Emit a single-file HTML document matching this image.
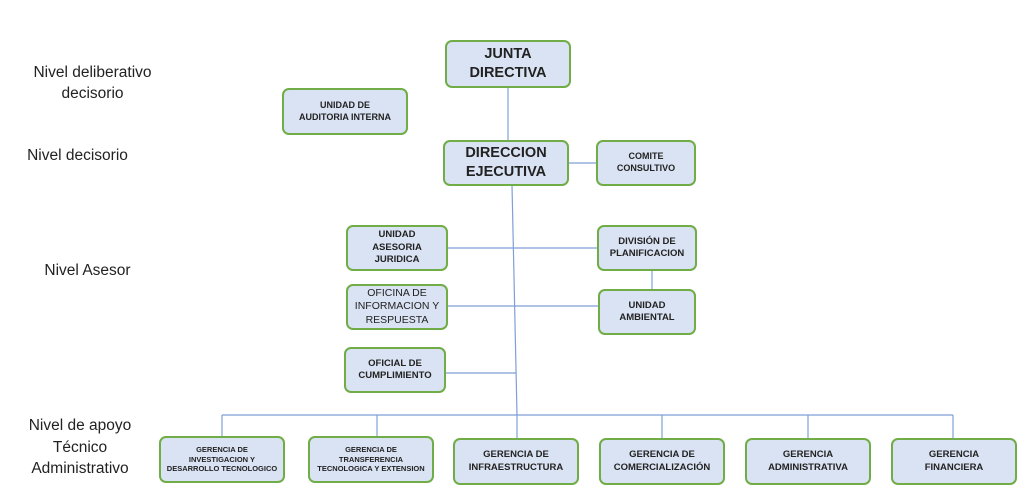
<!DOCTYPE html>
<html><head><meta charset="utf-8"><style>
body{margin:0;width:1024px;height:490px;background:#fff;position:relative;overflow:hidden;font-family:"Liberation Sans",sans-serif}
.b{position:absolute;box-sizing:border-box;background:#dae3f3;border:2px solid #70ad47;border-radius:7px;display:flex;align-items:center;justify-content:center;text-align:center;font-weight:bold;color:#222;line-height:1.3}
.l{position:absolute;font-size:15.5px;color:#222;text-align:center;line-height:21px}
svg{position:absolute;left:0;top:0}
</style></head><body>
<svg width="1024" height="490"><g stroke="#7f9fd6" stroke-width="1.2" fill="none">
<line x1="508" y1="88" x2="508" y2="140"/>
<line x1="569" y1="163" x2="596" y2="163"/>
<line x1="512" y1="185" x2="517" y2="415"/>
<line x1="448" y1="248" x2="597" y2="248"/>
<line x1="448" y1="306" x2="598" y2="306"/>
<line x1="446" y1="373" x2="516" y2="373"/>
<line x1="652" y1="271" x2="652" y2="289"/>
<line x1="222" y1="415" x2="953" y2="415"/>
<line x1="222" y1="415" x2="222" y2="436"/>
<line x1="377" y1="415" x2="377" y2="436"/>
<line x1="517" y1="415" x2="517" y2="438"/>
<line x1="662" y1="415" x2="662" y2="438"/>
<line x1="808" y1="415" x2="808" y2="438"/>
<line x1="953" y1="415" x2="953" y2="438"/>
</g></svg>
<div class="l" style="left:5px;top:62px;width:175px">Nivel deliberativo<br>decisorio</div>
<div class="l" style="left:5px;top:145px;width:145px">Nivel decisorio</div>
<div class="l" style="left:15px;top:260px;width:145px">Nivel Asesor</div>
<div class="l" style="left:5px;top:415px;width:150px;line-height:21.5px">Nivel de apoyo<br>Técnico<br>Administrativo</div>

<div class="b" style="left:445px;top:40px;width:126px;height:48px;font-size:14.5px">JUNTA<br>DIRECTIVA</div>
<div class="b" style="left:282px;top:88px;width:126px;height:47px;font-size:9px">UNIDAD DE<br>AUDITORIA INTERNA</div>
<div class="b" style="left:443px;top:140px;width:126px;height:46px;font-size:14.5px">DIRECCION<br>EJECUTIVA</div>
<div class="b" style="left:596px;top:140px;width:100px;height:46px;font-size:9px">COMITE<br>CONSULTIVO</div>
<div class="b" style="left:346px;top:225px;width:102px;height:46px;font-size:9.5px">UNIDAD<br>ASESORIA<br>JURIDICA</div>
<div class="b" style="left:597px;top:225px;width:100px;height:46px;font-size:9.5px">DIVISIÓN DE<br>PLANIFICACION</div>
<div class="b" style="left:346px;top:284px;width:102px;height:46px;font-size:10.5px;font-weight:normal">OFICINA DE<br>INFORMACION Y<br>RESPUESTA</div>
<div class="b" style="left:598px;top:289px;width:98px;height:46px;font-size:9.5px">UNIDAD<br>AMBIENTAL</div>
<div class="b" style="left:344px;top:347px;width:102px;height:46px;font-size:9.5px">OFICIAL DE<br>CUMPLIMIENTO</div>

<div class="b" style="left:159px;top:436px;width:126px;height:47px;font-size:7.5px">GERENCIA DE<br>INVESTIGACION Y<br>DESARROLLO TECNOLOGICO</div>
<div class="b" style="left:308px;top:436px;width:126px;height:47px;font-size:7.5px">GERENCIA DE<br>TRANSFERENCIA<br>TECNOLOGICA Y EXTENSION</div>
<div class="b" style="left:453px;top:438px;width:126px;height:47px;font-size:9.5px">GERENCIA DE<br>INFRAESTRUCTURA</div>
<div class="b" style="left:599px;top:438px;width:126px;height:47px;font-size:9.5px">GERENCIA DE<br>COMERCIALIZACIÓN</div>
<div class="b" style="left:745px;top:438px;width:126px;height:47px;font-size:9.5px">GERENCIA<br>ADMINISTRATIVA</div>
<div class="b" style="left:891px;top:438px;width:126px;height:47px;font-size:9.5px">GERENCIA<br>FINANCIERA</div>
</body></html>
